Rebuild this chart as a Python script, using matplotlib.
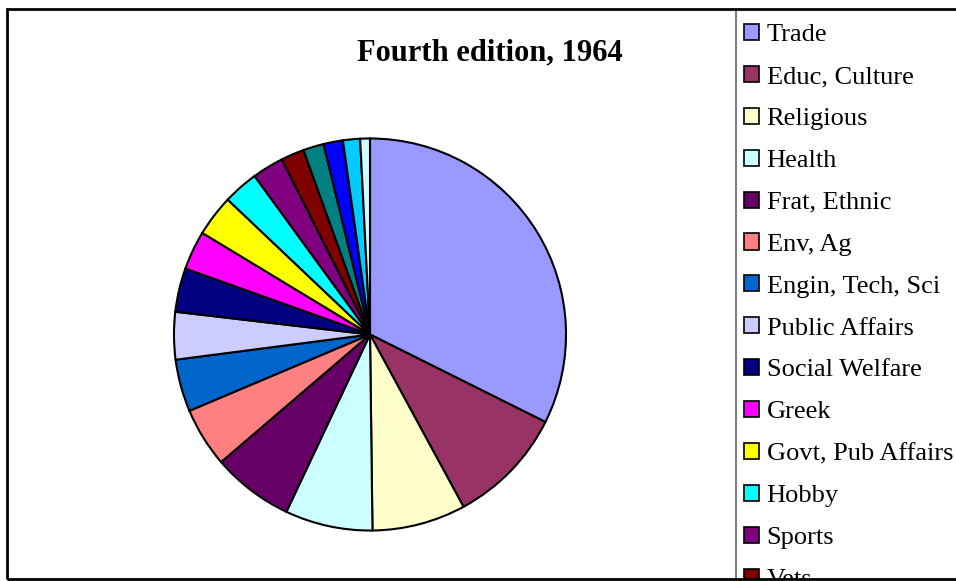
import matplotlib.pyplot as plt
from matplotlib.patches import Rectangle, Patch
from matplotlib.lines import Line2D

categories = ['Trade', 'Educ, Culture', 'Religious', 'Health', 'Frat, Ethnic',
              'Env, Ag', 'Engin, Tech, Sci', 'Public Affairs', 'Social Welfare',
              'Greek', 'Govt, Pub Affairs', 'Hobby', 'Sports', 'Vets',
              'Labor', 'Commerce', 'Athletic', 'Other']
shares = [32.3, 9.7, 7.7, 7.2, 6.7, 4.9, 4.3, 3.9, 3.6, 3.2,
          3.4, 2.9, 2.6, 1.9, 1.7, 1.6, 1.4, 0.8]
colors = ['#9999FF', '#993366', '#FFFFCC', '#CCFFFF', '#660066', '#FF8080',
          '#0066CC', '#CCCCFF', '#000080', '#FF00FF', '#FFFF00', '#00FFFF',
          '#800080', '#800000', '#008080', '#0000FF', '#00CCFF', '#CCFFFF']

W, H = 956, 581
plt.rcParams['font.family'] = ['Liberation Serif', 'DejaVu Serif']

fig = plt.figure(figsize=(W / 100, H / 100), dpi=100)

# outer chart frame and legend border (drawn over the clipped legend)
fig.add_artist(Rectangle((7 / W, 1 - 579 / H), 1.2, (579 - 9) / H,
                         transform=fig.transFigure, fill=False,
                         edgecolor='black', linewidth=2, zorder=10))
fig.add_artist(Rectangle((0, 0), 1, 1 - 580 / H, transform=fig.transFigure,
                         facecolor='white', edgecolor='none', zorder=9))
fig.add_artist(Line2D([736 / W, 736 / W], [1 - 579 / H, 1 - 9 / H],
                      transform=fig.transFigure, color='#808080', linewidth=1.5))

cx, cy, r = 370, 334.5, 197
ax = fig.add_axes([(cx - r) / W, 1 - (cy + r) / H, 2 * r / W, 2 * r / H])
ax.pie(shares, colors=colors, startangle=90, counterclock=False, radius=1,
       wedgeprops=dict(edgecolor='black', linewidth=1.5))
ax.set_xlim(-1.005, 1.005)
ax.set_ylim(-1.005, 1.005)
ax.set_aspect('equal')
ax.axis('off')

fig.text(490 / W, 1 - 53 / H, 'Fourth edition, 1964', ha='center', va='center',
         fontsize=22, fontweight='bold')

fs = 19
handles = [Patch(facecolor=c, edgecolor='black', linewidth=1.2) for c in colors]
fig.legend(handles, categories, loc='upper left',
           bbox_to_anchor=(744 / W, 1 - 24 / H), frameon=False,
           fontsize=fs, handlelength=0.56, handleheight=0.56,
           handletextpad=0.3, labelspacing=0.74, borderaxespad=0,
           borderpad=0)

fig.savefig('out.png', dpi=100)
